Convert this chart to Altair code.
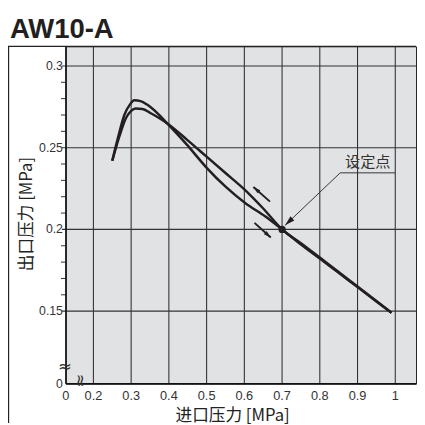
import math
import altair as alt
import pandas as pd

# ---------------- data ----------------
# curve A: higher peak, lower branch after the crossing
xa = [0.25, 0.265, 0.282, 0.297, 0.308, 0.325, 0.343, 0.37, 0.395, 0.447, 0.499, 0.551, 0.603, 0.655, 0.70, 0.75, 0.80, 0.85, 0.90, 0.95, 0.99]
ya = [0.242, 0.256, 0.270, 0.2765, 0.279, 0.2785, 0.2762, 0.271, 0.265, 0.252, 0.238, 0.226, 0.216, 0.208, 0.200, 0.1908, 0.1822, 0.1734, 0.1647, 0.1559, 0.149]
# curve B: lower peak, upper branch after the crossing
xb = [0.25, 0.269, 0.286, 0.30, 0.312, 0.33, 0.351, 0.375, 0.395, 0.45, 0.50, 0.55, 0.60, 0.65, 0.70, 0.75, 0.80, 0.85, 0.90, 0.95, 0.99]
yb = [0.242, 0.257, 0.268, 0.2725, 0.274, 0.2737, 0.2712, 0.268, 0.265, 0.2545, 0.2445, 0.2345, 0.2245, 0.2128, 0.200, 0.1916, 0.1828, 0.174, 0.1651, 0.1562, 0.149]

set_x = [0.70]
set_y = [0.200]

# direction arrows (tail -> head)
arr_x1 = [0.668, 0.627]
arr_y1 = [0.217, 0.204]
arr_x2 = [0.624, 0.670]
arr_y2 = [0.226, 0.195]

# "设定点" callout
lead_x1, lead_y1 = [0.854], [0.2346]
lead_x2, lead_y2 = [0.708], [0.2025]
under_x1, under_x2 = [0.854], [1.0]
label_x, label_y = [0.927], [0.2365]
label_text = ["设定点"]

# axis ticks (the axes are broken: the first value stands for 0)
x_ticks = [0.127, 0.2, 0.3, 0.4, 0.5, 0.6, 0.7, 0.8, 0.9, 1.0]
x_labels = ["0", "0.2", "0.3", "0.4", "0.5", "0.6", "0.7", "0.8", "0.9", "1"]
x_grid = [0.2, 0.3, 0.4, 0.5, 0.6, 0.7, 0.8, 0.9, 1.0]
y_ticks = [0.1056, 0.15, 0.2, 0.25, 0.3]
y_labels = ["0", "0.15", "0.2", "0.25", "0.3"]
y_grid = [0.15, 0.2, 0.25, 0.3]
y_minor = [0.16, 0.17, 0.18, 0.19, 0.21, 0.22, 0.23, 0.24, 0.26, 0.27, 0.28, 0.29]

title_text = ["AW10-A"]
x_title = ["进口压力 [MPa]"]
y_title = ["出口压力 [MPa]"]

# ---------------- layout ----------------
X_MIN, X_MAX = 0.127, 1.055
Y_MIN, Y_MAX = 0.1056, 0.312
W, H = 357, 344
INK = "#231f20"
GRID = "#333333"
LBL = "#333333"
LATIN = "Liberation Sans"
CJK = "Noto Sans CJK SC"

xs = alt.Scale(domain=[X_MIN, X_MAX], nice=False, zero=False)
ys = alt.Scale(domain=[Y_MIN, Y_MAX], nice=False, zero=False)


def X(f):
    return alt.X(f, scale=xs, axis=None)


def Y(f):
    return alt.Y(f, scale=ys, axis=None)


rows = []
for i, (x, y) in enumerate(zip(xa, ya)):
    rows.append({"x": x, "y": y, "s": "A", "o": i})
for i, (x, y) in enumerate(zip(xb, yb)):
    rows.append({"x": x, "y": y, "s": "B", "o": i})
curves = pd.DataFrame(rows)

one = pd.DataFrame({"k": [0]})

# grid, ticks, domains, labels
vgrid = alt.Chart(pd.DataFrame({"v": x_grid})).mark_rule(strokeWidth=1.1, color=GRID).encode(
    x=X("v:Q"), y=alt.value(0), y2=alt.value(H))
hgrid = alt.Chart(pd.DataFrame({"v": y_grid})).mark_rule(strokeWidth=1.1, color=GRID).encode(
    y=Y("v:Q"), x=alt.value(-4), x2=alt.value(W))
minor = alt.Chart(pd.DataFrame({"v": y_minor})).mark_rule(strokeWidth=1, color=GRID).encode(
    y=Y("v:Q"), x=alt.value(-5), x2=alt.value(0))
dom_left = alt.Chart(one).mark_rule(strokeWidth=1.5, color="#111111").encode(
    x=alt.value(0), y=alt.value(0), y2=alt.value(H))
dom_bottom = alt.Chart(one).mark_rule(strokeWidth=1.5, color="#111111").encode(
    x=alt.value(0), x2=alt.value(W), y=alt.value(H))
xlab = alt.Chart(pd.DataFrame({"v": x_ticks, "l": x_labels})).mark_text(
    font=LATIN, fontSize=13, color=LBL, align="center", baseline="middle").encode(
    x=X("v:Q"), y=alt.value(H + 13), text="l:N")
ylab = alt.Chart(pd.DataFrame({"v": y_ticks, "l": y_labels})).mark_text(
    font=LATIN, fontSize=12.5, color=LBL, align="right", baseline="middle").encode(
    y=Y("v:Q"), x=alt.value(-3), text="l:N")

lines = alt.Chart(curves).mark_line(interpolate="monotone", strokeWidth=2.5, color=INK).encode(
    x=X("x:Q"), y=Y("y:Q"), detail="s:N", order="o:Q")


def px(v):
    return (v - X_MIN) / (X_MAX - X_MIN) * W


def py(v):
    return (Y_MAX - v) / (Y_MAX - Y_MIN) * H


def ang(x1, y1, x2, y2):
    dx = px(x2) - px(x1)
    dy = py(y2) - py(y1)
    return math.degrees(math.atan2(dx, -dy)) % 360


arrows = pd.DataFrame({"x": arr_x1, "y": arr_y1, "x2": arr_x2, "y2": arr_y2})
arrows["a"] = [ang(a, b, c, d) for a, b, c, d in zip(arr_x1, arr_y1, arr_x2, arr_y2)]

head_path = "M0,0L0.5,1.8L-0.5,1.8Z"

arrow_lines = alt.Chart(arrows).mark_rule(strokeWidth=2, color=INK).encode(
    x=X("x:Q"), y=Y("y:Q"), x2="x2:Q", y2="y2:Q")
arrow_heads = alt.Chart(arrows).mark_point(shape=head_path, filled=True, size=70, color=INK, opacity=1).encode(
    x=X("x2:Q"), y=Y("y2:Q"), angle=alt.Angle("a:Q", scale=None))

lead = pd.DataFrame({"x": lead_x1, "y": lead_y1, "x2": lead_x2, "y2": lead_y2})
lead["a"] = [ang(lead_x1[0], lead_y1[0], lead_x2[0], lead_y2[0])]
lead_line = alt.Chart(lead).mark_rule(strokeWidth=1, color="#333333").encode(
    x=X("x:Q"), y=Y("y:Q"), x2="x2:Q", y2="y2:Q")
lead_head = alt.Chart(lead).mark_point(shape=head_path, filled=True, size=130, color=INK, opacity=1).encode(
    x=X("x2:Q"), y=Y("y2:Q"), angle=alt.Angle("a:Q", scale=None))

under = pd.DataFrame({"x": under_x1, "x2": under_x2, "y": lead_y1})
under_line = alt.Chart(under).mark_rule(strokeWidth=1, color="#333333").encode(
    x=X("x:Q"), x2="x2:Q", y=Y("y:Q"))

label = alt.Chart(pd.DataFrame({"x": label_x, "y": label_y, "t": label_text})).mark_text(
    font=CJK, fontSize=15.5, color="#333333", align="center", baseline="bottom").encode(
    x=X("x:Q"), y=Y("y:Q"), text="t:N")

dot = alt.Chart(pd.DataFrame({"x": set_x, "y": set_y})).mark_circle(size=55, color=INK, opacity=1).encode(
    x=X("x:Q"), y=Y("y:Q"))

title = alt.Chart(pd.DataFrame({"t": title_text})).mark_text(
    font=LATIN, fontSize=28, fontWeight="bold", color=INK, align="left", baseline="alphabetic").encode(
    x=alt.value(-57), y=alt.value(-8), text="t:N")
xt = alt.Chart(pd.DataFrame({"t": x_title})).mark_text(
    font=CJK, fontSize=17, color="#222222", align="center", baseline="middle").encode(
    x=alt.value(170), y=alt.value(377), text="t:N")
yt = alt.Chart(pd.DataFrame({"t": y_title})).mark_text(
    font=CJK, fontSize=17, color="#222222", align="center", baseline="middle", angle=270).encode(
    x=alt.value(-40), y=alt.value(171), text="t:N")

frame_top = alt.Chart(one).mark_rule(strokeWidth=1.2, color="#222222").encode(
    x=alt.value(-59), x2=alt.value(W), y=alt.value(0))
frame_left = alt.Chart(one).mark_rule(strokeWidth=1.2, color="#222222").encode(
    x=alt.value(-58.4), y=alt.value(0), y2=alt.value(H + 40))

brk_y = alt.Chart(pd.DataFrame({"t": ["≈"]})).mark_text(
    font="DejaVu Sans", fontSize=17, color="#333333", align="center", baseline="middle").encode(
    x=alt.value(-1), y=alt.value(327), text="t:N")
brk_x = alt.Chart(pd.DataFrame({"t": ["≈"]})).mark_text(
    font="DejaVu Sans", fontSize=17, color="#333333", align="center", baseline="middle", angle=90).encode(
    x=alt.value(14), y=alt.value(341), text="t:N")

chart = alt.layer(
    vgrid, hgrid, minor, dom_left, dom_bottom, xlab, ylab,
    lines, arrow_lines, arrow_heads, lead_line, lead_head, under_line, label, dot,
    title, xt, yt, frame_top, frame_left, brk_y, brk_x,
).properties(
    width=W, height=H,
    background="white",
    autosize=alt.AutoSizeParams(type="none"),
    padding={"left": 59, "top": 35, "right": 1, "bottom": 38},
).configure_view(
    fill="#e1e2e4", stroke="#222222", strokeWidth=1,
)

chart.save("out.html", embed_options={"renderer": "svg", "actions": False})
